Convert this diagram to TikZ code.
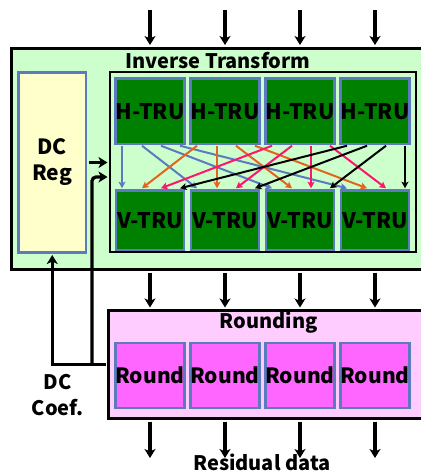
\documentclass[tikz,border=0pt]{standalone}
\usepackage{fontspec}
\setmainfont{Noto Sans CJK KR}
\usetikzlibrary{arrows.meta}
\definecolor{bordblue}{RGB}{92,122,190}
\definecolor{trugreen}{RGB}{0,128,0}
\definecolor{ltgreen}{RGB}{204,255,204}
\definecolor{ltyellow}{RGB}{255,255,204}
\definecolor{ltpink}{RGB}{255,204,255}
\definecolor{magent}{RGB}{255,102,255}
\definecolor{arrorange}{RGB}{228,100,30}
\definecolor{arrpink}{RGB}{255,20,110}
\tikzset{
  unitbox/.style={draw=bordblue, line width=2.5pt, minimum width=68pt, inner sep=0pt, font=\bfseries\fontsize{21.5}{24}\selectfont},
  htru/.style={unitbox, fill=trugreen, minimum height=65.5pt},
  vtru/.style={unitbox, fill=trugreen, minimum height=59.5pt},
  rbox/.style={unitbox, fill=magent, minimum height=65pt, font=\bfseries\fontsize{21}{24}\selectfont},
  bigarrow/.style={line width=3.2pt, -{Stealth[length=9pt,width=11pt,inset=2.5pt]}},
  plainline/.style={line width=3.2pt},
  thinarrow/.style={line width=2pt, -{Stealth[length=6.5pt,width=7pt,inset=1.5pt]}},
  lbl/.style={font=\bfseries\fontsize{20}{23}\selectfont, inner sep=0pt, align=center},
}
\begin{document}
\begin{tikzpicture}[x=1pt,y=-1pt]
\useasboundingbox (0,0) rectangle (421,472);
\begin{scope}
\clip (0,0) rectangle (421,472);
% outer boxes
\node[draw=black, line width=3pt, fill=ltgreen, minimum width=420.5pt, minimum height=221.5pt, inner sep=0pt] (it) at (221.75,158.75) {};
\node[draw=black, line width=3pt, fill=ltpink, minimum width=323.5pt, minimum height=108pt, inner sep=0pt] (rounding) at (270.25,364.5) {};
\end{scope}
\node[lbl] (itlabel) at (218,61) {Inverse Transform};
\node[lbl] (rlabel) at (268.5,323) {Rounding};
\node[draw=bordblue, line width=2.5pt, fill=ltyellow, minimum width=67.5pt, minimum height=180pt, inner sep=0pt, align=center, font=\bfseries\fontsize{21}{26}\selectfont] (dcreg) at (52.25,162.5) {DC\\Reg};
\node[draw=black, line width=2pt, fill=ltgreen, minimum width=306.2pt, minimum height=180pt, inner sep=0pt] (inner) at (262.6,162) {};
% units
\foreach \i in {1,2,3,4}{
  \node[htru] (h\i) at ({150+75*(\i-1)},111.25) {H-TRU};
  \node[vtru] (v\i) at ({150+75*(\i-1)},220.25) {V-TRU};
  \node[rbox] (r\i) at ({150+75*(\i-1)},375.5) {Round};
}
% transpose connections
\foreach \i/\col in {1/bordblue,2/arrorange,3/arrpink,4/black}{
  \foreach \j/\oj in {1/-28,2/-8,3/11,4/30}{
    \pgfmathsetmacro{\oi}{{-28,-8,11,30}[\i-1]}
    \draw[thinarrow, draw=\col, fill=\col] ([xshift=\oj pt, yshift=-0.5pt]h\i.south) -- ([xshift=\oi pt, yshift=1pt]v\j.north);
  }
}
% data arrows
\foreach \i in {1,2,3,4}{
  \coordinate (t\i) at ({150+75*(\i-1)},10);
  \coordinate (b\i) at ({150+75*(\i-1)},458);
  \draw[bigarrow] (t\i) -- ([yshift=1.5pt]h\i |- it.north);
  \draw[bigarrow] ([yshift=-1.5pt]h\i |- it.south) -- ([yshift=1.5pt]h\i |- rounding.north);
  \draw[bigarrow] ([yshift=-1.5pt]r\i |- rounding.south) -- (b\i);
}
% DC paths
\coordinate (j) at (92,364.5);
\draw[plainline] ([xshift=-1.5pt]rounding.west) -| (j);
\draw[bigarrow] (j) -| ([yshift=-1.3pt]dcreg.south);
\draw[bigarrow] ([xshift=1.3pt]dcreg.east) -- ([xshift=-1pt]dcreg.east -| inner.west);
\draw[bigarrow, rounded corners=4pt] (j) |- ([xshift=-1pt, yshift=-15pt]inner.west);
\node[lbl, font=\bfseries\fontsize{20}{26}\selectfont] (dccoef) at (57.5,395) {DC\\Coef.};
\node[lbl] (resid) at (262,462) {Residual data};
\end{tikzpicture}
\end{document}
